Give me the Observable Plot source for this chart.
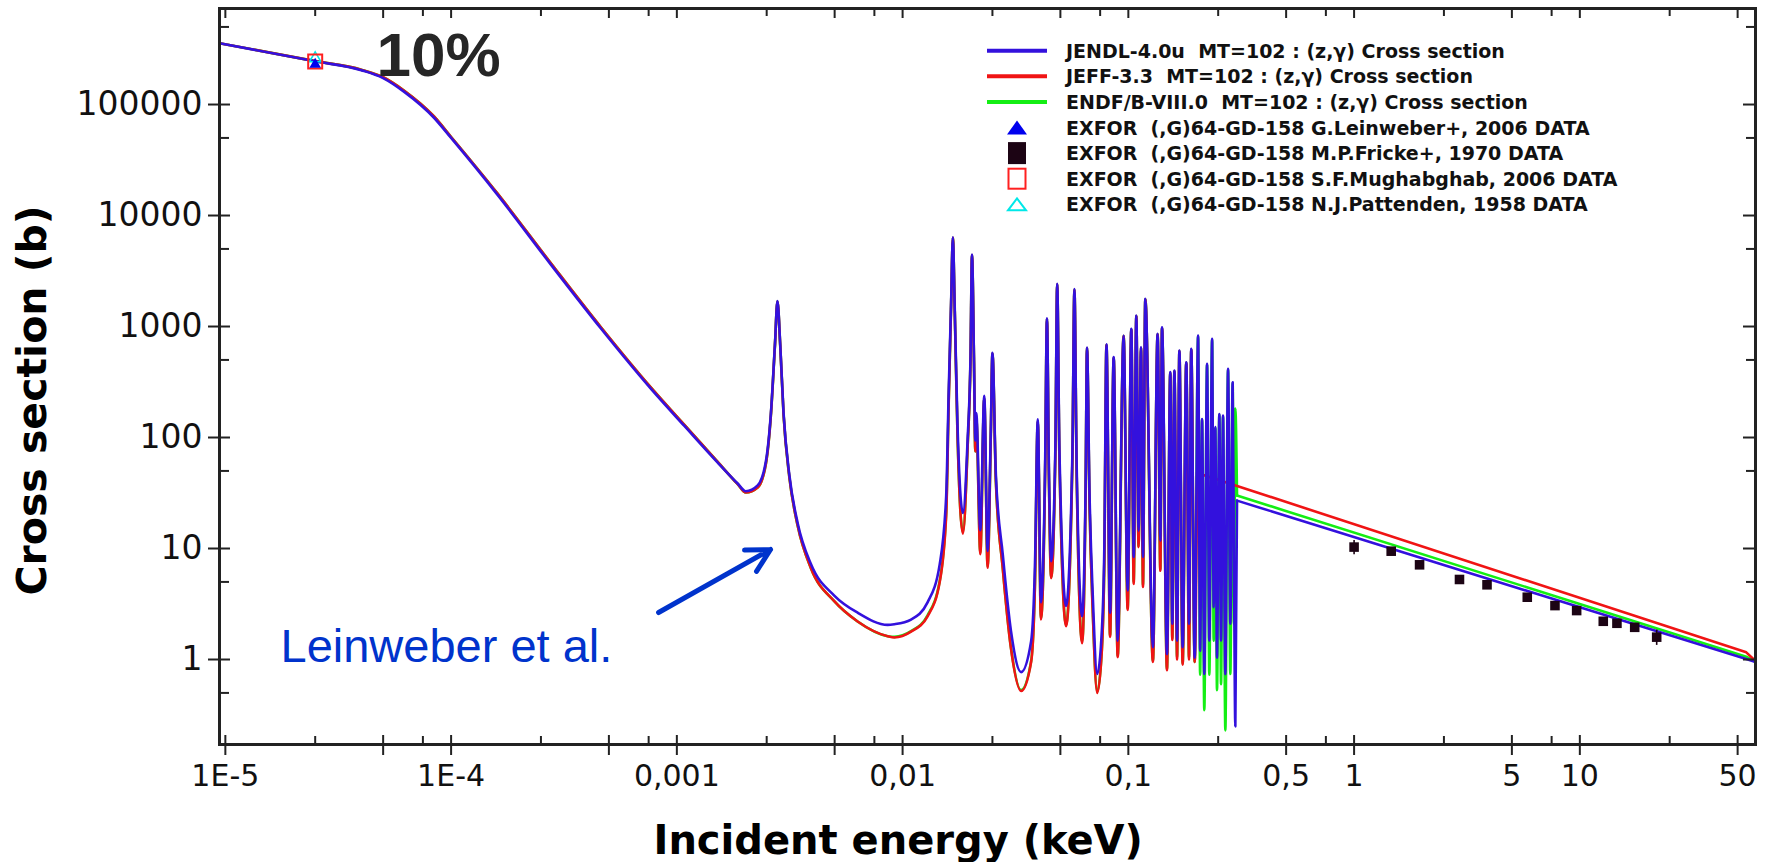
<!DOCTYPE html>
<html><head><meta charset="utf-8">
<script src="https://cdn.jsdelivr.net/npm/d3@7"></script>
<script src="https://cdn.jsdelivr.net/npm/@observablehq/plot@0.6"></script>
<style>
body{margin:0;background:#fff;}
#wrap{position:relative;width:1769px;height:862px;}
#legend{position:absolute;left:0;top:0;pointer-events:none;}
</style></head><body>
<div id="wrap"></div>
<script>
// ---------- data (energy in keV, cross section in barns) ----------
const energyKeV = [
 9.42e-6, 2.5e-5, 4.0e-5, 5.0e-5, 6.2e-5, 8.4e-5, 1.0e-4, 1.6e-4,
 2.8e-4, 4.6e-4, 7.7e-4, 1.08e-3, 1.51e-3, 1.86e-3, 2.02e-3, 2.28e-3,
 2.48e-3, 2.61e-3, 2.72e-3, 2.79e-3, 2.87e-3, 2.97e-3, 3.15e-3, 3.43e-3,
 3.93e-3, 4.98e-3, 6.32e-3, 8.59e-3, 9.2e-3, 1.09e-2, 1.29e-2, 1.46e-2,
 1.56e-2, 1.6e-2, 1.64e-2, 1.67e-2, 1.70e-2, 1.75e-2, 1.85e-2, 1.94e-2,
 2.0e-2, 2.03e-2, 2.07e-2, 2.1e-2, 2.12e-2, 2.21e-2, 2.3e-2, 2.38e-2,
 2.46e-2, 2.5e-2, 2.59e-2, 2.78e-2, 3.02e-2, 3.35e-2, 3.71e-2, 3.86e-2,
 3.97e-2, 4.1e-2, 4.28e-2, 4.36e-2, 4.45e-2, 4.55e-2, 4.75e-2, 4.84e-2,
 4.95e-2, 5.3e-2, 5.65e-2, 5.77e-2, 5.9e-2, 6.24e-2, 6.47e-2, 6.56e-2,
 6.73e-2, 6.96e-2, 7.28e-2, 7.63e-2, 7.83e-2, 8.0e-2, 8.3e-2, 8.61e-2,
 8.97e-2, 9.53e-2, 9.93e-2, 0.1031, 0.1056, 0.1085, 0.111, 0.1138,
 0.1161, 0.1189, 0.1285, 0.1348, 0.1386, 0.141, 0.1483, 0.1534,
 0.1566, 0.16, 0.1644, 0.1683, 0.174, 0.1806, 0.1857, 0.19,
 0.1967, 0.2018, 0.2037, 0.208, 0.2121, 0.217, 0.2232, 0.2284,
 0.235, 0.2388, 0.2428, 0.247, 0.253, 0.2574, 0.2627, 0.269,
 0.2765, 0.283, 0.2898, 0.2939, 0.2978, 0.303, 54.6, 60
];
const jendlXS = [
 3.57e5, 2.45e5, 2.04e5, 1.73e5, 1.3e5, 7.6e4, 5.0e4, 1.55e4,
 3.5e3, 965, 273, 127, 60, 38.5, 32.8, 37,
 61, 166, 693, 1694, 693, 166, 46, 16.9,
 7.2, 3.77, 2.64, 2.05, 2.08, 2.29, 3.27, 7.2,
 29.9, 255, 1633, 6350, 1633, 134, 20.9, 93.8,
 560, 4445, 560, 94, 166, 14.6, 237, 9.5,
 120, 580, 46, 8.7, 1.81, 0.77, 1.46, 7.5,
 146, 3.27, 60, 1185, 50, 7.7, 80, 2420,
 80, 3.04, 70, 2175, 60, 2.45, 40, 646,
 31.5, 3.7, 0.74, 1.81, 10.8, 690, 2.64, 530,
 1.48, 830, 4.2, 953, 8.4, 1256, 14.5, 652,
 8.4, 1774, 1.29, 860, 11.8, 986, 1.12, 388,
 2.1, 402, 1.48, 608, 1.29, 477, 2.1, 630,
 1.04, null, 830, 1.2, 147, 0.74, 461, 1.48,
 775, 2.96, 124, 1.04, 163, 1.48, 158, 0.74,
 416, 2.1, 315, 5.9, 0.25, 27.0, 1.01, 0.95
];
const jeffXS = [
 3.57e5, 2.46e5, 2.06e5, 1.76e5, 1.33e5, 7.8e4, 5.1e4, 1.59e4,
 3.6e3, 990, 280, 130, 61, 38, 32, 35.5,
 58, 160, 680, 1680, 680, 160, 44, 16,
 6.6, 3.35, 2.2, 1.62, 1.58, 1.78, 2.45, 5.0,
 20, 200, 1550, 6300, 1550, 110, 13.6, 80,
 530, 4400, 530, 75, 150, 8.9, 225, 6.7,
 110, 570, 40, 6.5, 1.26, 0.52, 0.95, 5.0,
 140, 2.3, 50, 1170, 40, 5.4, 70, 2400,
 65, 2.0, 60, 2150, 50, 1.4, 35, 640,
 25, 2.6, 0.5, 1.2, 8, 680, 1.6, 520,
 1.05, 820, 2.8, 940, 4.8, 1240, 10.3, 640,
 4.5, 1760, 0.95, 850, 6.3, 970, 0.8, 380,
 1.5, 395, 1.0, 600, 0.9, 470, 1.0, 620,
 0.95, 48, null, null, null, null, null, null,
 null, null, null, null, null, null, null, null,
 null, null, null, null, null, null, 1.16, 0.97
];
const endfXS = [
 3.57e5, 2.46e5, 2.06e5, 1.76e5, 1.33e5, 7.8e4, 5.1e4, 1.59e4,
 3.6e3, 990, 280, 130, 61, 38, 32, 35.5,
 58, 160, 680, 1680, 680, 160, 44, 16,
 6.6, 3.35, 2.2, 1.62, 1.6, 1.8, 2.5, 5.1,
 21, 210, 1550, 6300, 1550, 110, 14, 80,
 530, 4400, 530, 75, 150, 9.2, 225, 6.9,
 110, 570, 40, 6.6, 1.28, 0.53, 0.97, 5.1,
 140, 2.35, 50, 1170, 40, 5.5, 70, 2400,
 65, 2.05, 60, 2150, 50, 1.45, 35, 640,
 25, 2.65, 0.51, 1.22, 8, 680, 1.65, 520,
 1.08, 820, 2.9, 940, 5.0, 1240, 10.5, 640,
 4.7, 1760, 0.97, 850, 6.5, 970, 0.82, 380,
 1.55, 395, 1.05, 600, 0.92, 470, 1.05, 620,
 0.95, null, 820, 0.73, 145, 0.35, 455, 0.73,
 765, 1.48, 122, 0.53, 160, 0.6, 155, 0.23,
 410, 0.74, 310, 2.1, 182, 30.0, 1.06, 0.95
];
// energy (keV) where each evaluation's resolved-resonance region ends and the smooth part starts
const smoothFromKeV = [0.303, 0.2018, 0.303];
const seriesNames = ["JENDL", "JEFF", "ENDF"];
const seriesColors = ["#3311dd", "#f01414", "#14ee14"];

// EXFOR points
const frickeE = [1.0, 1.46, 1.95, 2.93, 3.88, 5.85, 7.76, 9.68, 12.7, 14.6, 17.5, 21.9];
const frickeXS = [10.3, 9.46, 7.13, 5.26, 4.71, 3.64, 3.06, 2.76, 2.21, 2.12, 1.95, 1.59];
const frickeErr = [1.5, 0.5, 0.4, 0.3, 0.25, 0.2, 0.15, 0.15, 0.12, 0.12, 0.1, 0.25];
const leinweberE = [2.5e-5], leinweberXS = [2.3e5];
const mughabghabE = [2.5e-5], mughabghabXS = [2.44e5];
const pattendenE = [2.5e-5], pattendenXS = [2.6e5];

// axis ticks
const majorXTicks = [1e-5, 5e-5, 1e-4, 5e-4, 1e-3, 5e-3, 1e-2, 5e-2, 0.1, 0.5, 1, 5, 10, 50];
const minorXTicks = [2.5e-5, 7.5e-5, 2.5e-4, 7.5e-4, 2.5e-3, 7.5e-3, 2.5e-2, 7.5e-2, 0.25, 0.75, 2.5, 7.5, 25];
const xLabelTicks = [1e-5, 1e-4, 1e-3, 1e-2, 0.1, 0.5, 1, 5, 10, 50];
const xLabelText = ["1E-5", "1E-4", "0,001", "0,01", "0,1", "0,5", "1", "5", "10", "50"];
const majorYTicks = [1, 10, 100, 1000, 10000, 100000];
const minorYTicks = [0.5, 5, 50, 500, 5000, 50000, 500000];

// annotation arrow (keV, b)
const arrowFrom = [8.3e-4, 2.65], arrowTo = [2.6e-3, 9.8];

// legend
const legendLabels = [
 "JENDL-4.0u  MT=102 : (z,γ) Cross section",
 "JEFF-3.3  MT=102 : (z,γ) Cross section",
 "ENDF/B-VIII.0  MT=102 : (z,γ) Cross section",
 "EXFOR  (,G)64-GD-158 G.Leinweber+, 2006 DATA",
 "EXFOR  (,G)64-GD-158 M.P.Fricke+, 1970 DATA",
 "EXFOR  (,G)64-GD-158 S.F.Mughabghab, 2006 DATA",
 "EXFOR  (,G)64-GD-158 N.J.Pattenden, 1958 DATA"
];

// ---------- build tables ----------
const allXS = [jendlXS, jeffXS, endfXS];
const rrrRows = [], smoothRows = [];
allXS.forEach((xs, s) => {
  energyKeV.forEach((E, i) => {
    if (xs[i] == null) return;
    const d = {E, xs: xs[i], s: seriesNames[s]};
    if (E <= smoothFromKeV[s]) rrrRows.push(d);
    if (E >= smoothFromKeV[s]) smoothRows.push(d);
  });
});
const pick = (rows, name) => rows.filter(d => d.s === name);
const fricke = frickeE.map((E, i) => ({E, xs: frickeXS[i], err: frickeErr[i]}));
const pts = (Es, XS) => Es.map((E, i) => ({E, xs: XS[i]}));
const xLabels = xLabelTicks.map((E, i) => ({E, label: xLabelText[i]}));

const W = 1769, H = 862, ML = 219, MR = 14, MT = 8, MB = 118;
const FW = W - ML - MR, FH = H - MT - MB;
const tickStroke = "#222";

const order = [2, 1, 0]; // ENDF, JEFF, JENDL on top
const lineMarks = [];
for (const s of order) {
  lineMarks.push(Plot.line(pick(rrrRows, seriesNames[s]), {x: "E", y: "xs", stroke: seriesColors[s], strokeWidth: 2.6, curve: "monotone-x"}));
  lineMarks.push(Plot.line(pick(smoothRows, seriesNames[s]), {x: "E", y: "xs", stroke: seriesColors[s], strokeWidth: 2.6, curve: "linear"}));
}

const chart = Plot.plot({
  width: W, height: H,
  marginLeft: ML, marginRight: MR, marginTop: MT, marginBottom: MB,
  x: {type: "log", domain: [9.42e-6, 60], axis: null},
  y: {type: "log", domain: [0.1715, 7.33e5]},
  style: {fontFamily: "'DejaVu Sans', sans-serif", background: "#fff", color: "#111"},
  marks: [
    ...lineMarks,
    Plot.ruleX(fricke, {x: "E", y1: d => d.xs - d.err, y2: d => d.xs + d.err, stroke: "#1c0414", strokeWidth: 1.6}),
    Plot.dot(fricke, {x: "E", y: "xs", symbol: "square", r: 5.4, fill: "#1c0414", stroke: "none"}),
    Plot.dot(pts(pattendenE, pattendenXS), {x: "E", y: "xs", symbol: "triangle", r: 4.3, fill: "none", stroke: "#00e8e8", strokeWidth: 1.5}),
    Plot.dot(pts(mughabghabE, mughabghabXS), {x: "E", y: "xs", symbol: "square", r: 7.9, fill: "none", stroke: "#ff2020", strokeWidth: 2}),
    Plot.dot(pts(leinweberE, leinweberXS), {x: "E", y: "xs", symbol: "triangle", r: 4.3, fill: "#0000ee", stroke: "none"}),
    Plot.arrow([0], {x1: () => arrowFrom[0], y1: () => arrowFrom[1], x2: () => arrowTo[0], y2: () => arrowTo[1],
      stroke: "#0033cc", strokeWidth: 5, headLength: 7.8, headAngle: 56}),
    // frame and ticks
    Plot.frame({stroke: "#222", strokeWidth: 3}),
    Plot.ruleX(majorXTicks, {x: d => d, insetTop: FH - 9, insetBottom: -11, stroke: tickStroke, strokeWidth: 2}),
    Plot.ruleX(minorXTicks, {x: d => d, insetTop: FH - 8, insetBottom: 0, stroke: tickStroke, strokeWidth: 2}),
    Plot.ruleX(majorXTicks, {x: d => d, insetTop: 0, insetBottom: FH - 10, stroke: tickStroke, strokeWidth: 2}),
    Plot.ruleX(minorXTicks, {x: d => d, insetTop: 0, insetBottom: FH - 8, stroke: tickStroke, strokeWidth: 2}),
    Plot.ruleY(majorYTicks, {y: d => d, insetLeft: -11, insetRight: FW - 11, stroke: tickStroke, strokeWidth: 2}),
    Plot.ruleY(minorYTicks, {y: d => d, insetLeft: 0, insetRight: FW - 10, stroke: tickStroke, strokeWidth: 2}),
    Plot.ruleY(majorYTicks, {y: d => d, insetLeft: FW - 12, insetRight: 0, stroke: tickStroke, strokeWidth: 2}),
    Plot.ruleY(minorYTicks, {y: d => d, insetLeft: FW - 9, insetRight: 0, stroke: tickStroke, strokeWidth: 2}),
    // x tick labels
    Plot.text(xLabels, {x: "E", text: "label", frameAnchor: "bottom", dy: 20, lineAnchor: "top", fontSize: 30, fill: "#111"}),
    Plot.axisY({ticks: majorYTicks, tickFormat: d => d3.format("d")(d), tickSize: 0, tickPadding: 17, fontSize: 33, label: null}),
    // titles and annotations
    Plot.text(["Incident energy (keV)"], {text: d => d, frameAnchor: "bottom-left", dx: 434, dy: 109, textAnchor: "start", lineAnchor: "bottom", fontSize: 40, fontWeight: "bold", fill: "#000"}),
    Plot.text(["Cross section (b)"], {text: d => d, frameAnchor: "left", dx: -174, dy: 24, rotate: -90, textAnchor: "middle", lineAnchor: "bottom", fontSize: 41, fontWeight: "bold", fill: "#000"}),
    Plot.text(["10%"], {text: d => d, frameAnchor: "top-left", dx: 157, dy: 67, textAnchor: "start", lineAnchor: "bottom", fontSize: 62, fontWeight: "bold", fontFamily: "'Liberation Sans', Arial, sans-serif", fill: "#262626"}),
    Plot.text(["Leinweber et al."], {text: d => d, frameAnchor: "top-left", dx: 61, dy: 653, textAnchor: "start", lineAnchor: "bottom", fontSize: 47, fontFamily: "'Liberation Sans', Arial, sans-serif", fill: "#0033cc"})
  ]
});
const wrap = document.getElementById("wrap");
wrap.appendChild(chart);

// legend overlay
const kinds = ["line", "line", "line", "tri", "sq", "osq", "otri"];
const kindColors = [seriesColors[0], seriesColors[1], seriesColors[2], "#0000ee", "#1c0414", "#ff2020", "#00e8e8"];
let g = "";
legendLabels.forEach((lab, i) => {
  const y = 50.7 + 25.6 * i, cx = 1017, c = kindColors[i];
  if (kinds[i] === "line") g += `<line x1="987" x2="1047" y1="${y}" y2="${y}" stroke="${c}" stroke-width="4"/>`;
  if (kinds[i] === "tri") g += `<polygon points="${cx-10},${y+7} ${cx+10},${y+7} ${cx},${y-7}" fill="${c}"/>`;
  if (kinds[i] === "sq") g += `<rect x="${cx-9}" y="${y-11}" width="18" height="22" fill="${c}"/>`;
  if (kinds[i] === "osq") g += `<rect x="${cx-8.5}" y="${y-10}" width="17" height="20" fill="none" stroke="${c}" stroke-width="2"/>`;
  if (kinds[i] === "otri") g += `<polygon points="${cx-9},${y+6} ${cx+9},${y+6} ${cx},${y-6}" fill="none" stroke="${c}" stroke-width="2"/>`;
  g += `<text x="1066" y="${y}" dominant-baseline="central" style="white-space:pre;font-family:'DejaVu Sans',sans-serif;font-weight:bold;font-size:19px;fill:#111">${lab}</text>`;
});
const leg = document.createElementNS("http://www.w3.org/2000/svg", "svg");
leg.setAttribute("id", "legend");
leg.setAttribute("width", W); leg.setAttribute("height", H);
leg.innerHTML = g;
wrap.appendChild(leg);
</script>
</body></html>
